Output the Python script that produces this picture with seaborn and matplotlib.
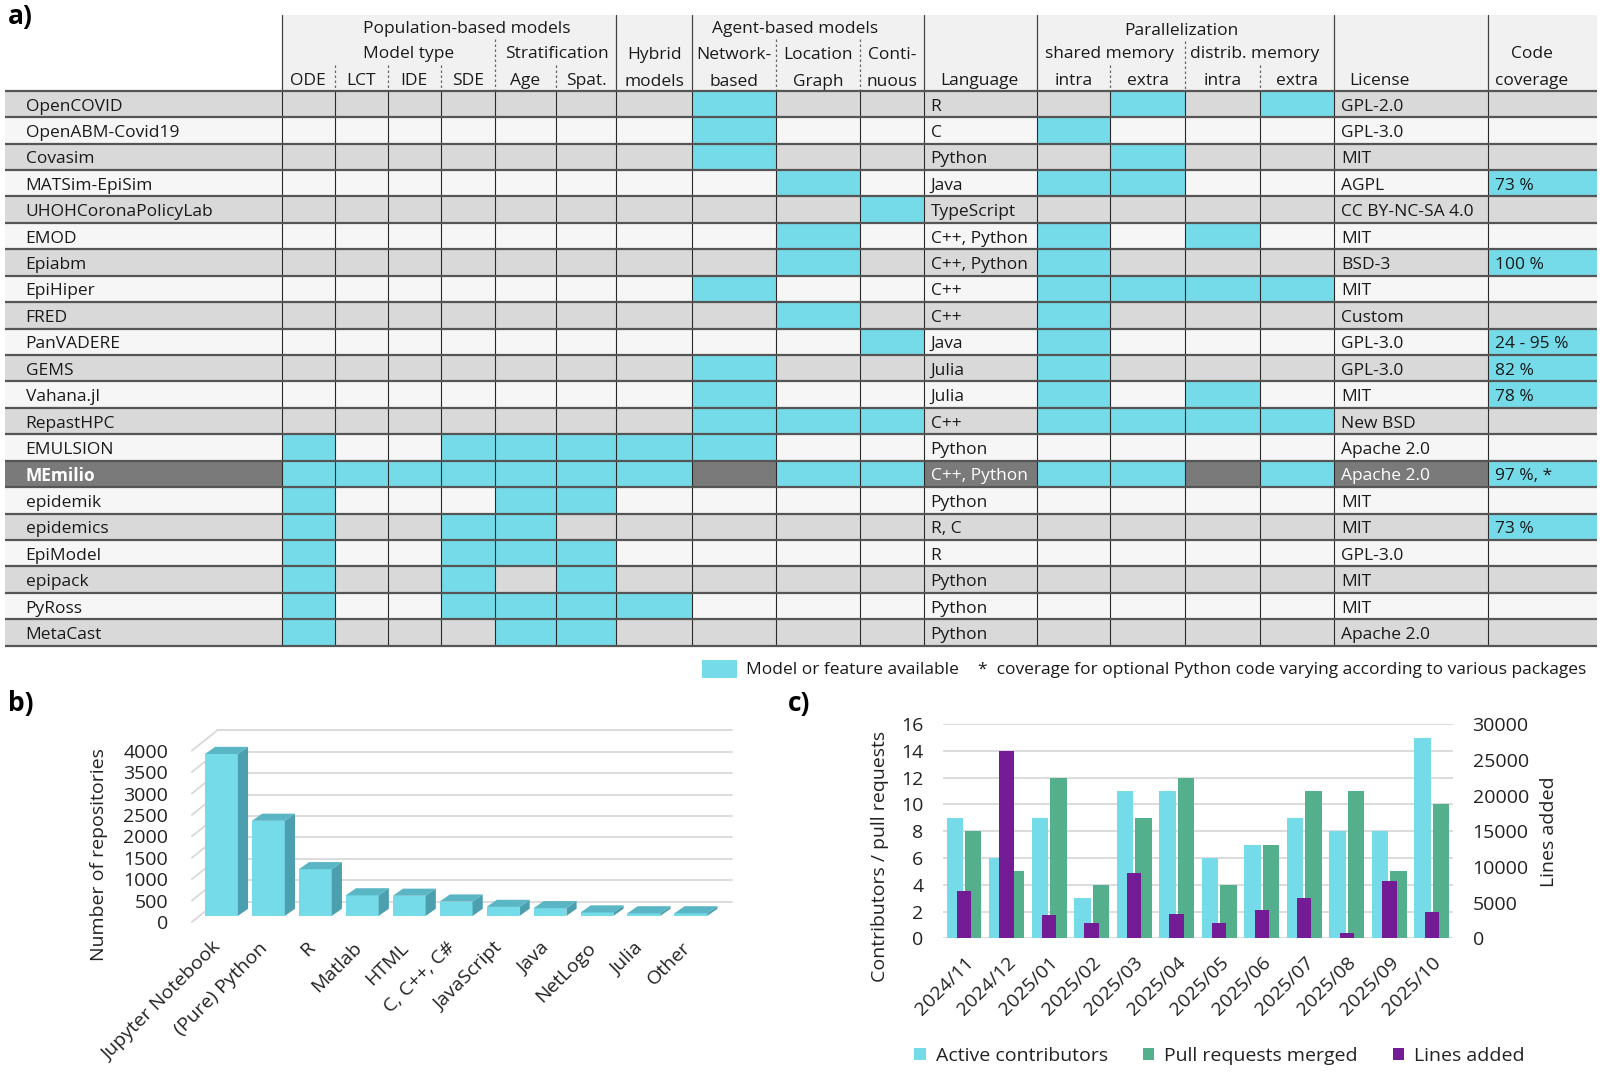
import numpy as np
import pandas as pd
import matplotlib
matplotlib.use("Agg")
import matplotlib.pyplot as plt
import matplotlib.transforms as mtransforms
from matplotlib.patches import Rectangle, Polygon, Patch
import seaborn as sns

# ---------------- data: panel a ----------------
models = ["OpenCOVID", "OpenABM-Covid19", "Covasim", "MATSim-EpiSim", "UHOHCoronaPolicyLab",
          "EMOD", "Epiabm", "EpiHiper", "FRED", "PanVADERE", "GEMS", "Vahana.jl", "RepastHPC",
          "EMULSION", "MEmilio", "epidemik", "epidemics", "EpiModel", "epipack", "PyRoss", "MetaCast"]
highlight = "MEmilio"
# columns: ODE LCT IDE SDE Age Spat Hybrid Network Location Continuous | sh-intra sh-extra di-intra di-extra
feature_matrix = [
    [0,0,0,0,0,0,0,1,0,0, 0,1,0,1],
    [0,0,0,0,0,0,0,1,0,0, 1,0,0,0],
    [0,0,0,0,0,0,0,1,0,0, 0,1,0,0],
    [0,0,0,0,0,0,0,0,1,0, 1,1,0,0],
    [0,0,0,0,0,0,0,0,0,1, 0,0,0,0],
    [0,0,0,0,0,0,0,0,1,0, 1,0,1,0],
    [0,0,0,0,0,0,0,0,1,0, 1,0,0,0],
    [0,0,0,0,0,0,0,1,0,0, 1,1,1,1],
    [0,0,0,0,0,0,0,0,1,0, 1,0,0,0],
    [0,0,0,0,0,0,0,0,0,1, 1,0,0,0],
    [0,0,0,0,0,0,0,1,0,0, 1,0,0,0],
    [0,0,0,0,0,0,0,1,0,0, 1,0,1,0],
    [0,0,0,0,0,0,0,1,1,1, 1,1,1,1],
    [1,0,0,1,1,1,1,1,0,0, 0,0,0,0],
    [1,1,1,1,1,1,1,0,1,1, 1,1,0,1],
    [1,0,0,0,1,1,0,0,0,0, 0,0,0,0],
    [1,0,0,1,1,0,0,0,0,0, 0,0,0,0],
    [1,0,0,1,1,1,0,0,0,0, 0,0,0,0],
    [1,0,0,1,0,1,0,0,0,0, 0,0,0,0],
    [1,0,0,1,1,1,1,0,0,0, 0,0,0,0],
    [1,0,0,0,1,1,0,0,0,0, 0,0,0,0],
]
languages = ["R", "C", "Python", "Java", "TypeScript", "C++, Python", "C++, Python", "C++", "C++",
             "Java", "Julia", "Julia", "C++", "Python", "C++, Python", "Python", "R, C", "R",
             "Python", "Python", "Python"]
licenses = ["GPL-2.0", "GPL-3.0", "MIT", "AGPL", "CC BY-NC-SA 4.0", "MIT", "BSD-3", "MIT", "Custom",
            "GPL-3.0", "GPL-3.0", "MIT", "New BSD", "Apache 2.0", "Apache 2.0", "MIT", "MIT",
            "GPL-3.0", "MIT", "MIT", "Apache 2.0"]
coverage = ["", "", "", "73 %", "", "", "100 %", "", "", "24 - 95 %", "82 %", "78 %", "", "",
            "97 %, *", "", "73 %", "", "", "", ""]

# ---------------- data: panel b ----------------
repo_languages = ["Jupyter Notebook", "(Pure) Python", "R", "Matlab", "HTML", "C, C++, C#",
                  "JavaScript", "Java", "NetLogo", "Julia", "Other"]
repo_counts = [3780, 2220, 1090, 480, 470, 335, 210, 180, 80, 60, 60]
repo_ticks = [0, 500, 1000, 1500, 2000, 2500, 3000, 3500, 4000]

# ---------------- data: panel c ----------------
months = ["2024/11", "2024/12", "2025/01", "2025/02", "2025/03", "2025/04", "2025/05",
          "2025/06", "2025/07", "2025/08", "2025/09", "2025/10"]
active_contributors = [9, 6, 9, 3, 11, 11, 6, 7, 9, 8, 8, 15]
pull_requests = [8, 5, 12, 4, 9, 12, 4, 7, 11, 11, 5, 10]
lines_added = [6700, 26200, 3300, 2100, 9100, 3400, 2200, 4000, 5700, 750, 8100, 3700]

# ---------------- style ----------------
CYAN = "#75dbe9"
GREEN = "#53af8c"
PURPLE = "#741b96"
SIDE = "#4b9fae"
TOP = "#5ab6c5"
GRAY = "#d9d9d9"
LIGHT = "#f6f6f6"
DARK = "#7a7a7a"
TXT = "#1a1a1a"

sns.set_theme(style="white")
plt.rcParams["font.family"] = ["Open Sans", "DejaVu Sans"]

W, H = 1568.0, 1053.0
fig = plt.figure(figsize=(16, 10.74), dpi=100)

axO = fig.add_axes([0, 0, 1, 1])
axO.set_xlim(0, W)
axO.set_ylim(H, 0)
axO.axis("off")


def fax(x0, y0, x1, y1):
    return fig.add_axes([x0 / W, 1 - y1 / H, (x1 - x0) / W, (y1 - y0) / H])


# ---------------- panel a: table ----------------
col_edges = [5, 276, 328, 380, 432, 485, 545, 604, 678, 760, 843, 906,
             1016, 1088, 1161, 1235, 1307, 1458, 1565]
feat_edge_idx = [1, 2, 3, 4, 5, 6, 7, 8, 9, 10, 12, 13, 14, 15]
head_top, row_top, tab_bot = 15, 89, 633
row_h = (tab_bot - row_top) / len(models)
FS = 12.5

axO.add_patch(Rectangle((276, head_top), 1565 - 276, row_top - head_top, fc="#f1f1f1", ec="none", zorder=0))

for i, m in enumerate(models):
    y0 = row_top + i * row_h
    hl = (m == highlight)
    bg = DARK if hl else (GRAY if i % 2 == 0 else LIGHT)
    axO.add_patch(Rectangle((5, y0), 1560, row_h, fc=bg, ec="none", zorder=1))
    for j, v in enumerate(feature_matrix[i]):
        if v:
            l = col_edges[feat_edge_idx[j]]
            r = col_edges[feat_edge_idx[j] + 1]
            axO.add_patch(Rectangle((l, y0), r - l, row_h, fc=CYAN, ec="none", zorder=2))
    if coverage[i]:
        axO.add_patch(Rectangle((1458, y0), 1565 - 1458, row_h, fc=CYAN, ec="none", zorder=2))
    tc = "white" if hl else TXT
    yc = y0 + row_h / 2 + 2.5
    axO.text(25, yc, m, ha="left", va="center", fontsize=FS, color=tc,
             fontweight="bold" if hl else "normal", zorder=5)
    axO.text(912, yc, languages[i], ha="left", va="center", fontsize=FS, color=tc, zorder=5)
    axO.text(1314, yc, licenses[i], ha="left", va="center", fontsize=FS, color=tc, zorder=5)
    axO.text(1465, yc, coverage[i], ha="left", va="center", fontsize=FS, color=TXT, zorder=5)

for k in range(len(models) + 1):
    y = row_top + k * row_h
    axO.plot([5, 1565], [y, y], color="#555555", lw=1.6, zorder=4, solid_capstyle="butt")
for x in col_edges[1:-1]:
    axO.plot([x, x], [row_top, tab_bot], color="#2a2a2a", lw=0.8, zorder=3)

for x in [276, 604, 678, 906, 1016, 1307, 1458]:
    axO.plot([x, x], [head_top, row_top], color="#444444", lw=0.9, zorder=3)
for x, yt in [(328, 64), (380, 64), (432, 64), (485, 38), (545, 64), (760, 38), (843, 38),
              (1088, 64), (1161, 40), (1235, 64)]:
    axO.plot([x, x], [yt, row_top], color="#666666", lw=0.9, ls=(0, (2, 2)), zorder=3)

def htext(x, y, s):
    axO.text(x, y + 2, s, ha="center", va="center", fontsize=FS, color=TXT, zorder=5)

htext(457, 26, "Population-based models")
htext(400, 51, "Model type")
htext(546, 51, "Stratification")
htext(779, 26, "Agent-based models")
htext(1158, 28, "Parallelization")
htext(1087, 51, "shared memory")
htext(1230, 51, "distrib. memory")
htext(960, 77, "Language")
axO.text(1322, 79, "License", ha="left", va="center", fontsize=FS, color=TXT)
htext(1501, 51, "Code")
htext(1501, 77, "coverage")
sub_heads = ["ODE", "LCT", "IDE", "SDE", "Age", "Spat.", "Hybrid\nmodels", "Network-\nbased",
             "Location\nGraph", "Conti-\nnuous", "intra", "extra", "intra", "extra"]
for j, s in enumerate(sub_heads):
    xc = (col_edges[feat_edge_idx[j]] + col_edges[feat_edge_idx[j] + 1]) / 2
    parts = s.split("\n")
    if len(parts) == 2:
        htext(xc, 52, parts[0])
        htext(xc, 78, parts[1])
    else:
        htext(xc, 77, parts[0])

# legend under the table
axO.add_patch(Rectangle((688, 647), 34, 18, fc=CYAN, ec="none"))
axO.text(731, 657, "Model or feature available", ha="left", va="center", fontsize=FS, color=TXT)
axO.text(958, 657, "*  coverage for optional Python code varying according to various packages",
         ha="left", va="center", fontsize=FS, color=TXT)

# panel labels
for lab, x, y in [("a)", 8, 16), ("b)", 8, 690), ("c)", 772, 690)]:
    axO.text(x, y, lab, ha="left", va="center", fontsize=19, fontweight="bold", color="black")

# ---------------- panel b: pseudo-3D bars ----------------
bx0, bx1, by0, by1 = 188, 720, 700, 904
axB = fax(bx0, by0, bx1, by1)
px_per_cat = 46.0
px_per_val = 168.0 / 4000.0
first_center = 217.0
xmin = -(first_center - bx0) / px_per_cat
xmax = xmin + (bx1 - bx0) / px_per_cat
ymax = (by1 - by0) / px_per_val

wall_dx, wall_dy = 25 / px_per_cat, 20 / px_per_val
bar_dx, bar_dy = 10 / px_per_cat, 7 / px_per_val
bar_base = 6 / px_per_val

for v in repo_ticks:
    axB.plot([xmin, xmin + wall_dx], [v, v + wall_dy], color="#d9d9d9", lw=1.3, zorder=0,
             clip_on=False)
    axB.plot([xmin + wall_dx, xmax - 0.05], [v + wall_dy, v + wall_dy], color="#d9d9d9", lw=1.3,
             zorder=0, clip_on=False)

sns.barplot(x=repo_languages, y=repo_counts, color=CYAN, saturation=1, width=0.7,
            linewidth=0, ax=axB, zorder=2)
for p in list(axB.patches):
    p.set_y(bar_base)
    x0, w, h = p.get_x(), p.get_width(), p.get_height()
    yb, yt = bar_base, bar_base + h
    axB.add_patch(Polygon([(x0 + w, yb), (x0 + w + bar_dx, yb + bar_dy), (x0 + w + bar_dx, yt + bar_dy),
                           (x0 + w, yt)], closed=True, fc=SIDE, ec="none", zorder=2))
    axB.add_patch(Polygon([(x0, yt), (x0 + bar_dx, yt + bar_dy), (x0 + w + bar_dx, yt + bar_dy),
                           (x0 + w, yt)], closed=True, fc=TOP, ec="none", zorder=2))

axB.set_xlim(xmin, xmax)
axB.set_ylim(0, ymax)
axB.set_yticks(repo_ticks)
axB.set_yticklabels([str(t) for t in repo_ticks])
axB.tick_params(axis="y", length=0, pad=17, labelsize=14, labelcolor="#222222")
axB.tick_params(axis="x", length=0, pad=12, labelsize=14, labelcolor="#222222")
axB.set_xticks(range(len(repo_languages)))
axB.set_xticklabels(repo_languages, rotation=45, ha="right", rotation_mode="anchor")
off = mtransforms.ScaledTranslation(-7 / 72, 0, fig.dpi_scale_trans)
for lab in axB.get_xticklabels():
    lab.set_transform(lab.get_transform() + off)
axB.set_xlabel("")
axB.set_ylabel("")
for s in axB.spines.values():
    s.set_visible(False)
axB.patch.set_alpha(0)
axO.text(97, 838, "Number of repositories", rotation=90, ha="center", va="center",
         fontsize=14, color="#222222")

# ---------------- panel c: grouped bars + secondary axis ----------------
axC = fax(924, 710, 1424, 920)
dfc = pd.DataFrame({
    "month": months * 2,
    "value": active_contributors + pull_requests,
    "series": ["Active contributors"] * len(months) + ["Pull requests merged"] * len(months),
})
sns.barplot(data=dfc, x="month", y="value", hue="series", order=months,
            hue_order=["Active contributors", "Pull requests merged"], palette=[CYAN, GREEN],
            saturation=1, width=0.86, gap=0.1, linewidth=0, legend=False, ax=axC)
axC.set_ylim(0, 16)
axC.set_yticks(range(0, 17, 2))
axC.grid(axis="y", color="#d9d9d9", lw=1.3)
axC.set_axisbelow(True)
axC.set_xlabel("")
axC.set_ylabel("")
axC.tick_params(axis="y", length=0, pad=14, labelsize=14, labelcolor="#222222")
axC.tick_params(axis="x", length=0, pad=11, labelsize=14, labelcolor="#222222")
axC.set_xticks(range(len(months)))
axC.set_xticklabels(months, rotation=45, ha="right", rotation_mode="anchor")
for s in axC.spines.values():
    s.set_visible(False)

ax2 = axC.twinx()
sns.barplot(x=months, y=lines_added, color=PURPLE, saturation=1, width=0.34, linewidth=0, ax=ax2)
ax2.set_ylim(0, 30000)
ax2.set_yticks(range(0, 30001, 5000))
ax2.set_xlim(-0.5, len(months) - 0.5)
axC.set_xlim(-0.5, len(months) - 0.5)
ax2.set_ylabel("")
ax2.tick_params(axis="y", length=0, pad=14, labelsize=14, labelcolor="#222222")
ax2.grid(False)
for s in ax2.spines.values():
    s.set_visible(False)

axO.text(862, 840, "Contributors / pull requests", rotation=90, ha="center", va="center",
         fontsize=14, color="#222222")
axO.text(1518, 815, "Lines added", rotation=90, ha="center", va="center",
         fontsize=14, color="#222222")

handles = [Patch(fc=CYAN, ec="none", label="Active contributors"),
           Patch(fc=GREEN, ec="none", label="Pull requests merged"),
           Patch(fc=PURPLE, ec="none", label="Lines added")]
fig.legend(handles=handles, loc="center", bbox_to_anchor=(1195 / W, 1 - 1035 / H), ncol=3,
           frameon=False, fontsize=14, handlelength=0.6, handleheight=0.6, handletextpad=0.5,
           columnspacing=1.8, labelcolor="#222222")

fig.savefig("out.png", dpi=100)
